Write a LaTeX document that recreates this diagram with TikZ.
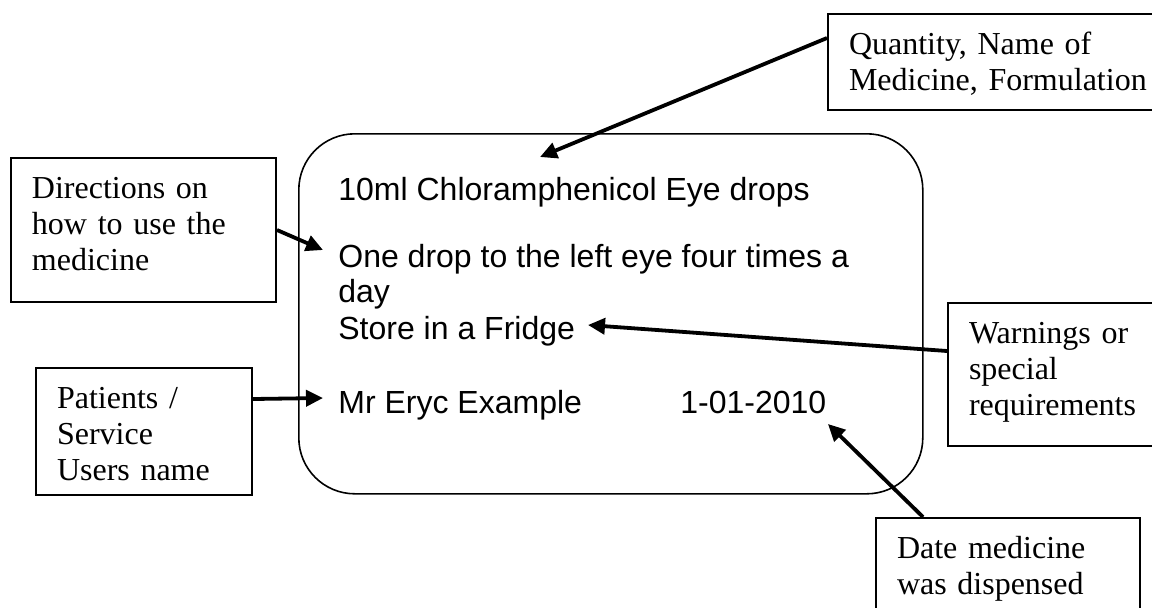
\documentclass[tikz,border=0pt]{standalone}
\usepackage{fontspec}
\setmainfont{Liberation Serif}
\newfontfamily\labelfont{Liberation Sans}
\usetikzlibrary{arrows.meta}

\tikzset{
  note/.style={draw, line width=1pt, anchor=north west, align=left,
    inner xsep=10.5pt, inner ysep=0pt, text height=20pt,
    font=\fontsize{16}{18}\selectfont},
  labeltext/.style={anchor=base west, inner sep=0pt,
    font=\labelfont\fontsize{16}{18}\selectfont},
  pointer/.style={-{Triangle[length=8.5pt,width=8pt]}, line width=1.9pt},
}

\begin{document}
\begin{tikzpicture}[x=0.5pt, y=-0.5pt]
    \useasboundingbox (0,0) rectangle (1152,607);
    \clip (0,0) rectangle (1152,607);

    % the label itself
    \node[draw, line width=0.8pt, rounded corners=28pt, anchor=north west,
      minimum width=312pt, minimum height=180pt] (label) at (298,133) {};
    \node[labeltext] (drug) at (338,200) {10ml Chloramphenicol Eye drops};
    \node[labeltext] (dose) at (338,267) {One drop to the left eye four times a};
    \node[labeltext] (doseday) at (338,302) {day};
    \node[labeltext] (store) at (338,339) {Store in a Fridge};
    \node[labeltext] (patient) at (338,413) {Mr Eryc Example};
    \node[labeltext] (dispdate) at (680,413) {1-01-2010};

    % notes round the label (two run off the right edge)
    \node[note, text width=180pt, text depth=28pt] (qtybox) at (827,13)
      {Quantity, Name of\\Medicine, Formulation};
    \node[note, text width=111.5pt, text depth=52pt] (dirbox) at (10,157)
      {Directions on\\how to use the\\medicine};
    \node[note, text width=87pt, text depth=43.5pt] (patbox) at (35,367)
      {Patients /\\Service\\Users name};
    \node[note, text width=140pt, text depth=51.5pt] (warnbox) at (947,302)
      {Warnings or\\special\\requirements};
    \node[note, text width=111pt, text depth=45pt] (datebox) at (875,517)
      {Date medicine\\was dispensed};

    \coordinate (drugtip) at (540,157);
    \coordinate (dosetip) at (323,250);
    \coordinate (storetip) at (588,325);
    \coordinate (patienttip) at (323,398);
    \coordinate (datetip) at (828,424);

    \draw[pointer] ([yshift=12pt]qtybox.west) -- (drugtip);
    \draw[pointer] (dirbox.east) -- (dosetip);
    \draw[pointer] ([yshift=11.75pt]warnbox.west) -- (storetip);
    \draw[pointer] ([yshift=16.25pt]patbox.east) -- (patienttip);
    \draw[pointer] ([xshift=-42.5pt]datebox.north) -- (datetip);
\end{tikzpicture}
\end{document}
